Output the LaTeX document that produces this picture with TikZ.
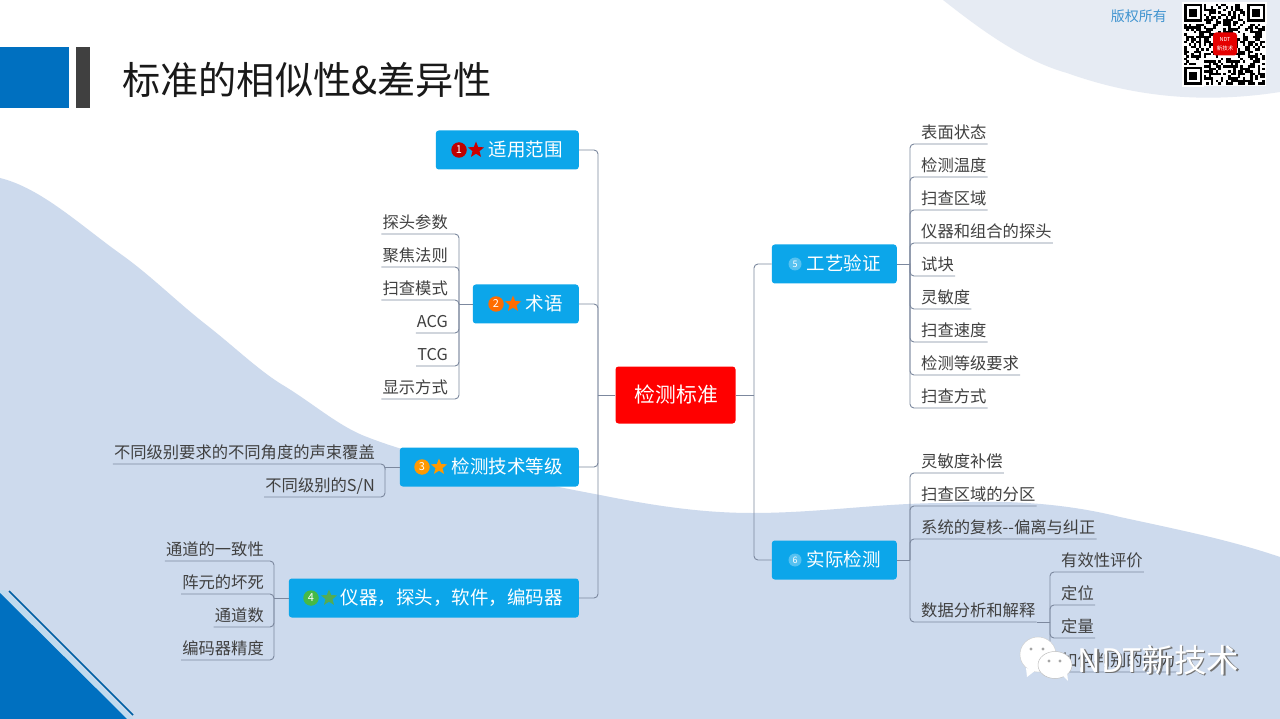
\documentclass[tikz,border=0pt]{standalone}
\usepackage{fontspec}
\setmainfont{Noto Sans CJK SC}
\usetikzlibrary{positioning}
\usetikzlibrary{shapes.geometric}
\definecolor{wavefill}{RGB}{205,218,237}
\definecolor{cornerfill}{RGB}{230,235,243}
\definecolor{slideblue}{RGB}{0,112,192}
\definecolor{boxblue}{RGB}{12,166,234}
\definecolor{linkgray}{RGB}{124,136,158}
\definecolor{leaftext}{RGB}{64,64,64}
\begin{document}
\begin{tikzpicture}
	[x=1pt,y=-1pt,
	branch/.style={shape=rectangle,rounded corners=3pt,fill=boxblue,text=white,anchor=east,align=right,minimum height=39pt,inner xsep=16pt,inner ysep=0pt,text height=16.5pt,text depth=4pt,font=\fontsize{18.5pt}{22pt}\selectfont},
	leaf/.style={shape=rectangle,inner xsep=1pt,inner ysep=1pt,text height=14pt,text depth=4pt,text=leaftext,font=\fontsize{16.3pt}{20pt}\selectfont},
	link/.style={draw=linkgray,line width=.9pt,rounded corners=4pt},
	badge/.style={shape=circle,inner sep=0pt,minimum size=15.5pt,text=white,font=\fontsize{11pt}{11pt}\selectfont},
	smallbadge/.style={shape=circle,inner sep=0pt,minimum size=13pt,fill=boxblue!70!white,text=white,font=\fontsize{9pt}{9pt}\selectfont},
	starmark/.style={shape=star,star points=5,star point ratio=2.3,inner sep=0pt,minimum size=17pt}]
	\useasboundingbox (0,0) rectangle (1280,719);
	\fill[white] (0,0) rectangle (1280,719);
	
	% background shapes
	\fill[wavefill] (0,178) .. controls (41,188) and (80,225) .. (122,255)
	.. controls (150,275) and (175,300) .. (204,323)
	.. controls (235,347) and (260,372) .. (286,387)
	.. controls (315,405) and (340,427) .. (367,437)
	.. controls (420,458) and (520,480) .. (600,495)
	.. controls (650,505) and (700,513) .. (752,513)
	.. controls (820,513) and (880,503) .. (947,503)
	.. controls (1000,500) and (1060,502) .. (1120,517)
	.. controls (1180,530) and (1230,540) .. (1280,557)
	-- (1280,719) -- (0,719) -- cycle;
	\fill[cornerfill] (943,0) .. controls (975,25) and (1020,60) .. (1067,73)
	.. controls (1120,92) and (1190,106) .. (1280,92) -- (1280,0) -- cycle;
	\fill[white!75!slideblue] (0,590) -- (5,590) -- (133,719) -- (127,719) -- (0,593) -- cycle;
	\fill[slideblue] (0,593) -- (127,719) -- (0,719) -- cycle;
	\draw[slideblue!85!black,line width=1.6pt] (9,591) -- (133,715);
	\fill[slideblue] (0,47) rectangle (69,108);
	\fill[leaftext] (76,47) rectangle (90,108);
	
	\node[anchor=west,inner sep=0pt,font=\fontsize{38.2pt}{44pt}\selectfont,text=black!90] (title) at (122,80) {标准的相似性\&差异性};
	\node[anchor=east,inner sep=0pt,font=\fontsize{14pt}{16pt}\selectfont,text=slideblue!75!white] (rights) at (1167,16.5) {版权所有};
	
	% qr code
	\fill[white] (1182,2) rectangle (1266,86);
	\pgfmathsetseed{17}
	\foreach \i in {0,...,32}
	\foreach \j in {0,...,32}{
		\pgfmathrandominteger{\qrbit}{0}{1}
		\ifnum\qrbit=1
		\fill[black] (1184+\i*2.45,4+\j*2.45) rectangle ++(2.5,2.5);
		\fi
	}
	\foreach \qx/\qy in {1184/4,1247/4,1184/67}{
		\fill[white] (\qx-2,\qy-2) rectangle ++(22,22);
		\fill[black] (\qx,\qy) rectangle ++(18,18);
		\fill[white] (\qx+2.5,\qy+2.5) rectangle ++(13,13);
		\fill[black] (\qx+5,\qy+5) rectangle ++(8,8);
	}
	\node[shape=rectangle,rounded corners=3pt,fill=red!90!black,minimum width=24pt,minimum height=23pt,inner sep=0pt,align=center,text=white,font=\fontsize{5.5pt}{9pt}\selectfont] (logo) at (1225,44) {NDT\\新技术};
	
	% center and branches
	\node[shape=rectangle,rounded corners=3pt,fill=red,text=white,minimum width=120pt,minimum height=57pt,inner sep=0pt,text height=18.5pt,text depth=4.5pt,font=\fontsize{20.8pt}{24pt}\selectfont] (center) at (675.5,395) {\hspace*{2pt}检测标准};
	\node[branch,text width=111pt] (n1) at (579,150) {适用范围};
	\node[branch,text width=74pt] (n2) at (579,304) {术语};
	\node[branch,text width=147pt] (n3) at (579,467) {检测技术等级};
	\node[branch,text width=258pt] (n4) at (579,598) {仪器，探头，软件，编码器};
	\node[branch,text width=93pt] (n5) at (897,264) {工艺验证};
	\node[branch,text width=93pt] (n6) at (897,560) {实际检测};
	
	\node[badge,fill=red!75!black] (b1) at (459,150) {1};
	\node[starmark,fill=red!80!black] (s1) at (476,150) {};
	\node[badge,fill=orange!85!red] (b2) at (496,304) {2};
	\node[starmark,fill=orange!85!red] (s2) at (513,304) {};
	\node[badge,fill=orange!80!yellow] (b3) at (422,467) {3};
	\node[starmark,fill=orange!80!yellow] (s3) at (439,467) {};
	\node[badge,fill=green!45!gray] (b4) at (311,598) {4};
	\node[starmark,fill=green!35!gray] (s4) at (329,598) {};
	\node[smallbadge] (b5) at (795,264) {5};
	\node[smallbadge] (b6) at (795,560) {6};
	
	\coordinate (spl) at (598,395);
	\coordinate (spr) at (754,395);
	\coordinate (sp2) at (459,304);
	\coordinate (sp3) at (385,467);
	\coordinate (sp4) at (274,598);
	\coordinate (sp5) at (910,264);
	\coordinate (sp6) at (910,560);
	\coordinate (sp7) at (1050,622);
	
	\path[link] (center.west) -- (spl);
	\path[link] (center.east) -- (spr);
	\foreach \nm in {n1,n2,n3,n4}
	\path[link] (\nm.east) -| (spl);
	\foreach \nm in {n5,n6}
	\path[link] (\nm.west) -| (spr);
	\path[link] (n2.west) -- (sp2);
	\path[link] (n3.west) -- (sp3);
	\path[link] (n4.west) -- (sp4);
	\path[link] (n5.east) -- (sp5);
	\path[link] (n6.east) -- (sp6);
	
	% left leaves
	\foreach \nm/\ypos/\txt in {a1/234/探头参数,a2/267/聚焦法则,a3/300/扫查模式,a4/333/ACG,a5/366/TCG,a6/399/显示方式}{
		\node[leaf,anchor=south east] (\nm) at (449,\ypos) {\txt};
		\path[link] (\nm.south west) -- (\nm.south east) -| (sp2);
	}
	\foreach \nm/\ypos/\txt in {c1/464/不同级别要求的不同角度的声束覆盖,c2/497/{不同级别的S/N}}{
		\node[leaf,anchor=south east] (\nm) at (376,\ypos) {\txt};
		\path[link] (\nm.south west) -- (\nm.south east) -| (sp3);
	}
	\foreach \nm/\ypos/\txt in {d1/561/通道的一致性,d2/594/阵元的坏死,d3/627/通道数,d4/660/编码器精度}{
		\node[leaf,anchor=south east] (\nm) at (265,\ypos) {\txt};
		\path[link] (\nm.south west) -- (\nm.south east) -| (sp4);
	}
	
	% right leaves
	\foreach \nm/\ypos/\txt in {e1/144/表面状态,e2/177/检测温度,e3/210/扫查区域,e4/243/仪器和组合的探头,e5/276/试块,e6/309/灵敏度,e7/342/扫查速度,e8/375/检测等级要求,e9/408/扫查方式}{
		\node[leaf,anchor=south west] (\nm) at (920,\ypos) {\txt};
		\path[link] (\nm.south east) -- (\nm.south west) -| (sp5);
	}
	\foreach \nm/\ypos/\txt in {f1/473/灵敏度补偿,f2/506/扫查区域的分区,f3/539/系统的复核-{}-偏离与纠正,f4/622/数据分析和解释}{
		\node[leaf,anchor=south west] (\nm) at (920,\ypos) {\txt};
		\path[link] (\nm.south east) -- (\nm.south west) -| (sp6);
	}
	\path[link] (f4.south east) -- (sp7);
	\foreach \nm/\ypos/\txt in {g1/572/有效性评价,g2/605/定位,g3/638/定量,g4/672/如何判别的能力}{
		\node[leaf,anchor=south west] (\nm) at (1060,\ypos) {\txt};
		\path[link] (\nm.south east) -- (\nm.south west) -| (sp7);
	}
	
	% watermark
	\fill[white,draw=gray!40,line width=.4pt] (1038,654.5) ellipse (18 and 17.5);
	\fill[white] (1026,668) -- (1027,677) -- (1036,670) -- cycle;
	\fill[white,draw=gray!50,line width=.5pt] (1055,665) ellipse (17 and 13.5);
	\fill[white] (1062,675) -- (1068,681) -- (1067,672) -- cycle;
	\foreach \ex/\ey in {1031/649,1043/649,1049/661,1060/661}
	\fill[gray!70] (\ex,\ey) circle (1.6);
	\node[anchor=west,inner sep=0pt,text=black!55,font=\fontsize{32.4pt}{36pt}\selectfont] (markshadow) at (1078.8,661.2) {NDT新技术};
	\node[anchor=west,inner sep=0pt,text=white,font=\fontsize{32.4pt}{36pt}\selectfont] (mark) at (1077.5,660) {NDT新技术};
	
\end{tikzpicture}
\end{document}
